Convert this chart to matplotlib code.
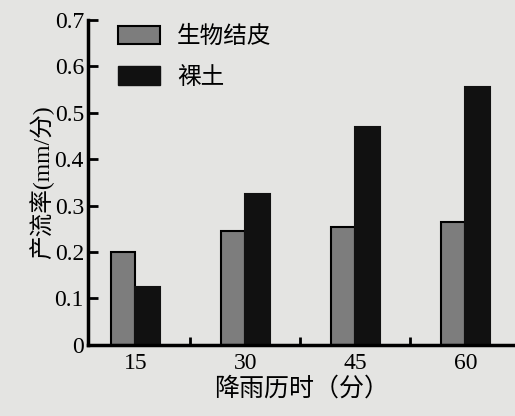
import numpy as np
import matplotlib.pyplot as plt
from matplotlib.patches import Patch

plt.rcParams['font.family'] = ['Liberation Serif', 'Noto Sans CJK SC', 'DejaVu Sans']

durations = ['15', '30', '45', '60']
crust = [0.20, 0.245, 0.255, 0.265]
bare = [0.125, 0.325, 0.47, 0.555]

bg = '#e4e4e2'
fig = plt.figure(figsize=(5.15, 4.16), dpi=100, facecolor=bg)
ax = fig.add_axes([0.171, 0.171, 0.829, 0.781], facecolor=bg)

x = np.arange(len(durations))
w = 0.22
ax.bar(x - w / 2, crust, w, color='#7d7d7d', edgecolor='black', linewidth=1.5)
ax.bar(x + w / 2, bare, w, color='#111111', edgecolor='#111111', linewidth=1.5)

ax.set_xlim(-0.43, 3.45)
ax.set_ylim(0, 0.7)
ax.set_yticks(np.arange(0, 0.71, 0.1))
ax.set_yticklabels(['0', '0.1', '0.2', '0.3', '0.4', '0.5', '0.6', '0.7'])
ax.set_xticks(x)
ax.set_xticklabels(durations)
ax.set_xticks(x[:-1] + 0.5, minor=True)
ax.tick_params(axis='x', which='major', length=0, labelsize=17, pad=6)
ax.tick_params(axis='x', which='minor', direction='in', length=6, width=2)
ax.tick_params(axis='y', direction='in', length=7, width=2, labelsize=17, pad=3)

for s in ['top', 'right']:
    ax.spines[s].set_visible(False)
for s in ['left', 'bottom']:
    ax.spines[s].set_linewidth(2.5)

ax.set_xlabel('降雨历时（分）', fontsize=18, labelpad=1,
              family=['Noto Sans CJK SC', 'DejaVu Sans'])
ax.set_ylabel('产流率(mm/分)', fontsize=17, labelpad=0)

handles = [Patch(facecolor='#7d7d7d', edgecolor='black', linewidth=1.5),
           Patch(facecolor='#111111', edgecolor='#111111')]
ax.legend(handles, ['生物结皮', '裸土'], loc='upper left',
          bbox_to_anchor=(0.02, 1.05), frameon=False,
          handlelength=1.8, handleheight=0.8, labelspacing=0.75, handletextpad=0.7,
          prop={'family': ['Noto Sans CJK SC', 'DejaVu Sans'], 'size': 17})

fig.savefig('out.png', dpi=100, facecolor=bg)
